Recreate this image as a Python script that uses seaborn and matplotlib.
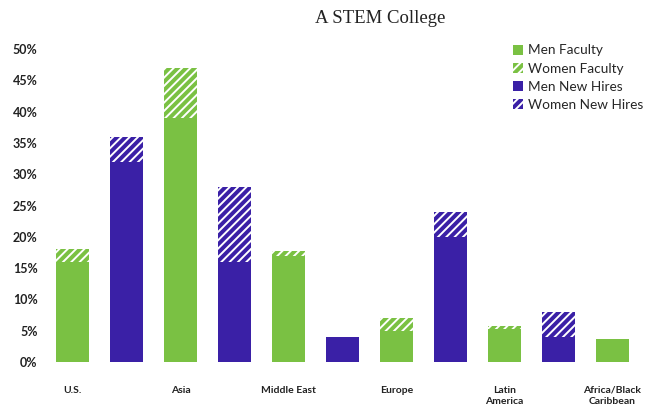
import matplotlib
matplotlib.use("Agg")
import matplotlib.pyplot as plt
from matplotlib.patches import Patch
import seaborn as sns
import pandas as pd

# Regions of origin (shown under the faculty bars)
regions = ["U.S.", "Asia", "Middle East", "Europe", "Latin\nAmerica", "Africa/Black\nCaribbean"]

# Share (%) of faculty, split by men / women
men_faculty = [16, 39, 17, 5, 5.2, 3.7]
women_faculty = [2, 8, 0.8, 2, 0.6, 0]

# Share (%) of new hires, split by men / women (no hires from the last region)
men_hires = [32, 16, 4, 20, 4]
women_hires = [4, 12, 0, 4, 4]

yticks = [0, 5, 10, 15, 20, 25, 30, 35, 40, 45, 50]

GREEN = "#7ac143"
BLUE = "#3a20a6"
HATCH = "////"

# Slots: faculty and new-hire bars alternate along the x axis
slots = []
for i in range(len(regions)):
    slots.append(f"fac{i}")
    if i < len(men_hires):
        slots.append(f"hire{i}")

fac = pd.DataFrame({
    "slot": [f"fac{i}" for i in range(len(regions))],
    "men": men_faculty,
    "total": [m + w for m, w in zip(men_faculty, women_faculty)],
})
hire = pd.DataFrame({
    "slot": [f"hire{i}" for i in range(len(men_hires))],
    "men": men_hires,
    "total": [m + w for m, w in zip(men_hires, women_hires)],
})

sns.set_theme(style="white")
plt.rcParams["hatch.linewidth"] = 1.4

fig = plt.figure(figsize=(6.46, 4.09), dpi=100)
ax = fig.add_axes([0.071, 0.115, 0.919, 0.765])

W = 0.61
# Women share stacked on top (hatched), drawn as full-height bars underneath
sns.barplot(data=fac, x="slot", y="total", order=slots, color=GREEN, width=W,
            saturation=1, hatch=HATCH, edgecolor="white", linewidth=0, ax=ax)
sns.barplot(data=hire, x="slot", y="total", order=slots, color=BLUE, width=W,
            saturation=1, hatch=HATCH, edgecolor="white", linewidth=0, ax=ax)
# Men share (solid)
sns.barplot(data=fac, x="slot", y="men", order=slots, color=GREEN, width=W,
            saturation=1, linewidth=0, ax=ax)
sns.barplot(data=hire, x="slot", y="men", order=slots, color=BLUE, width=W,
            saturation=1, linewidth=0, ax=ax)

ax.set_xlim(-0.5, len(slots) - 0.5)
ax.set_ylim(0, 50)
ax.set_yticks(yticks)
ax.set_yticklabels([f"{v}%" for v in yticks], fontsize=9, fontweight="bold",
                   family="Lato", color="#222222")
ax.set_xticks([slots.index(f"fac{i}") for i in range(len(regions))])
ax.set_xticklabels(regions, fontsize=7.5, fontweight="bold", family="Lato",
                   color="#222222", linespacing=1.3, va="top")
ax.tick_params(axis="x", length=0, pad=17)
ax.tick_params(axis="y", length=0, pad=6)
ax.set_xlabel("")
ax.set_ylabel("")
sns.despine(ax=ax, left=True, bottom=True)

fig.text(0.589, 0.955, "A STEM College", ha="center", va="center",
         fontsize=13.5, family="Liberation Serif", color="#222222")

handles = [
    Patch(facecolor=GREEN, edgecolor=GREEN, linewidth=0, label="Men Faculty"),
    Patch(facecolor=GREEN, edgecolor="white", hatch=HATCH, linewidth=0, label="Women Faculty"),
    Patch(facecolor=BLUE, edgecolor=BLUE, linewidth=0, label="Men New Hires"),
    Patch(facecolor=BLUE, edgecolor="white", hatch=HATCH, linewidth=0, label="Women New Hires"),
]
ax.legend(handles=handles, loc="upper left", bbox_to_anchor=(0.787, 1.015),
          frameon=False, prop={"family": "Lato", "size": 9.8},
          handlelength=0.75, handleheight=0.75, handletextpad=0.35,
          labelspacing=0.45, borderaxespad=0, borderpad=0)

fig.savefig("out.png", dpi=100)
